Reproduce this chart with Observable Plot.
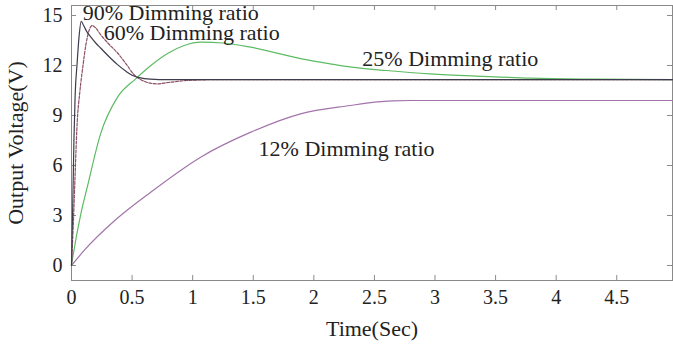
<!DOCTYPE html>
<html><head><meta charset="utf-8">
<script src="https://cdn.jsdelivr.net/npm/d3@7"></script>
<script src="https://cdn.jsdelivr.net/npm/@observablehq/plot@0.6"></script>
<style>body{margin:0;background:#fff} svg{display:block}</style>
</head><body><div id="chart"></div>
<script>
// 90% dimming ratio
const t90 = [0, 0.01, 0.02, 0.03, 0.047, 0.062, 0.08, 0.1, 0.125, 0.16, 0.2, 0.24, 0.3, 0.38, 0.45, 0.5, 0.56, 0.65, 0.8, 1.0, 2.0, 3.0, 4.0, 4.96];
const v90 = [0, 3.5, 7.5, 10.2, 12.2, 13.7, 14.65, 14.4, 14.05, 13.7, 13.35, 13.05, 12.6, 12.05, 11.65, 11.42, 11.27, 11.18, 11.15, 11.15, 11.15, 11.15, 11.15, 11.15];
// 60% dimming ratio
const t60 = [0, 0.015, 0.03, 0.045, 0.07, 0.093, 0.12, 0.145, 0.17, 0.2, 0.24, 0.3, 0.38, 0.45, 0.51, 0.6, 0.7, 0.8, 0.95, 1.2, 2.0, 3.0, 4.0, 4.96];
const v60 = [0, 2.5, 5.5, 8.3, 10.5, 11.9, 13.3, 14.1, 14.4, 14.25, 13.85, 13.35, 12.75, 12.1, 11.5, 11.05, 10.9, 10.98, 11.1, 11.15, 11.15, 11.15, 11.15, 11.15];
// 25% dimming ratio
const t25 = [0, 0.013, 0.077, 0.13, 0.24, 0.38, 0.53, 0.655, 0.8, 0.93, 1.07, 1.25, 1.48, 1.9, 2.135, 2.31, 2.6, 2.96, 3.4, 3.79, 4.3, 4.96];
const v25 = [0, 0.6, 3.1, 4.7, 7.9, 10.1, 11.2, 12.0, 12.75, 13.2, 13.4, 13.35, 13.1, 12.4, 12.1, 11.9, 11.7, 11.5, 11.35, 11.24, 11.18, 11.15];
// 12% dimming ratio
const t12 = [0, 0.11, 0.357, 0.654, 1.066, 1.48, 1.89, 2.3, 2.5, 2.65, 2.8, 3.0, 4.0, 4.96];
const v12 = [0, 0.95, 2.7, 4.4, 6.5, 8.0, 9.1, 9.6, 9.8, 9.88, 9.9, 9.9, 9.9, 9.9];

const xTicks = [0, 0.5, 1, 1.5, 2, 2.5, 3, 3.5, 4, 4.5];
const yTicks = [0, 3, 6, 9, 12, 15];
const labelText = ["90% Dimming ratio", "60% Dimming ratio", "25% Dimming ratio", "12% Dimming ratio"];
const labelT = [0.093, 0.266, 2.40, 1.544];
const labelV = [15.18, 13.98, 12.42, 7.02];
const xTitle = "Time(Sec)";
const yTitle = "Output Voltage(V)";

const toRows = (ts, vs) => ts.map((t, i) => ({t, v: vs[i]}));
const labels = labelText.map((s, i) => ({s, t: labelT[i], v: labelV[i]}));

const W = 673, H = 350, mL = 71, mR = 1, mT = 5, mB = 70;
const fw = W - mL - mR, fh = H - mT - mB, tk = 5;

const chart = Plot.plot({
  width: W, height: H,
  marginLeft: mL, marginRight: mR, marginTop: mT, marginBottom: mB,
  style: {fontFamily: "'Liberation Serif', 'Times New Roman', serif", fontSize: "20px", color: "#222", background: "#fff"},
  x: {domain: [0, 4.96]},
  y: {domain: [-0.9, 15.6]},
  marks: [
    Plot.frame({stroke: "#8a8a8a"}),
    Plot.gridX({ticks: xTicks, stroke: "#8a8a8a", strokeOpacity: 1, insetTop: fh - tk}),
    Plot.gridX({ticks: xTicks, stroke: "#8a8a8a", strokeOpacity: 1, insetBottom: fh - tk}),
    Plot.gridY({ticks: yTicks, stroke: "#8a8a8a", strokeOpacity: 1, insetRight: fw - tk}),
    Plot.gridY({ticks: yTicks, stroke: "#8a8a8a", strokeOpacity: 1, insetLeft: fw - tk}),
    Plot.axisX({ticks: xTicks, tickSize: 0, tickPadding: 9, label: null, tickFormat: d => String(d)}),
    Plot.axisY({ticks: yTicks, tickSize: 0, tickPadding: 9, label: null, tickFormat: d => String(d)}),
    Plot.line(toRows(t12, v12), {x: "t", y: "v", stroke: "#a274aa", strokeWidth: 1.2, curve: "monotone-x"}),
    Plot.line(toRows(t25, v25), {x: "t", y: "v", stroke: "#5dbb63", strokeWidth: 1.2, curve: "monotone-x"}),
    Plot.line(toRows(t60, v60), {x: "t", y: "v", stroke: "#8d4f63", strokeWidth: 1.2, strokeDasharray: "3,1.5", curve: "monotone-x"}),
    Plot.line(toRows(t90, v90), {x: "t", y: "v", stroke: "#3e3b4c", strokeWidth: 1.2, curve: "monotone-x"}),
    Plot.text(labels, {x: "t", y: "v", text: "s", textAnchor: "start", lineAnchor: "middle", fontSize: 22, fill: "#222", style: "letter-spacing:0.6px"}),
    Plot.text([xTitle], {text: d => d, frameAnchor: "bottom", textAnchor: "middle", lineAnchor: "middle", dy: 48, fontSize: 22, fill: "#222"}),
    Plot.text([yTitle], {text: d => d, frameAnchor: "left", textAnchor: "middle", lineAnchor: "middle", rotate: -90, dx: -56, fontSize: 22, fill: "#222"})
  ]
});
chart.querySelectorAll("g[aria-label='text'] text").forEach(() => {});
document.getElementById("chart").appendChild(chart);
</script>
</body></html>
